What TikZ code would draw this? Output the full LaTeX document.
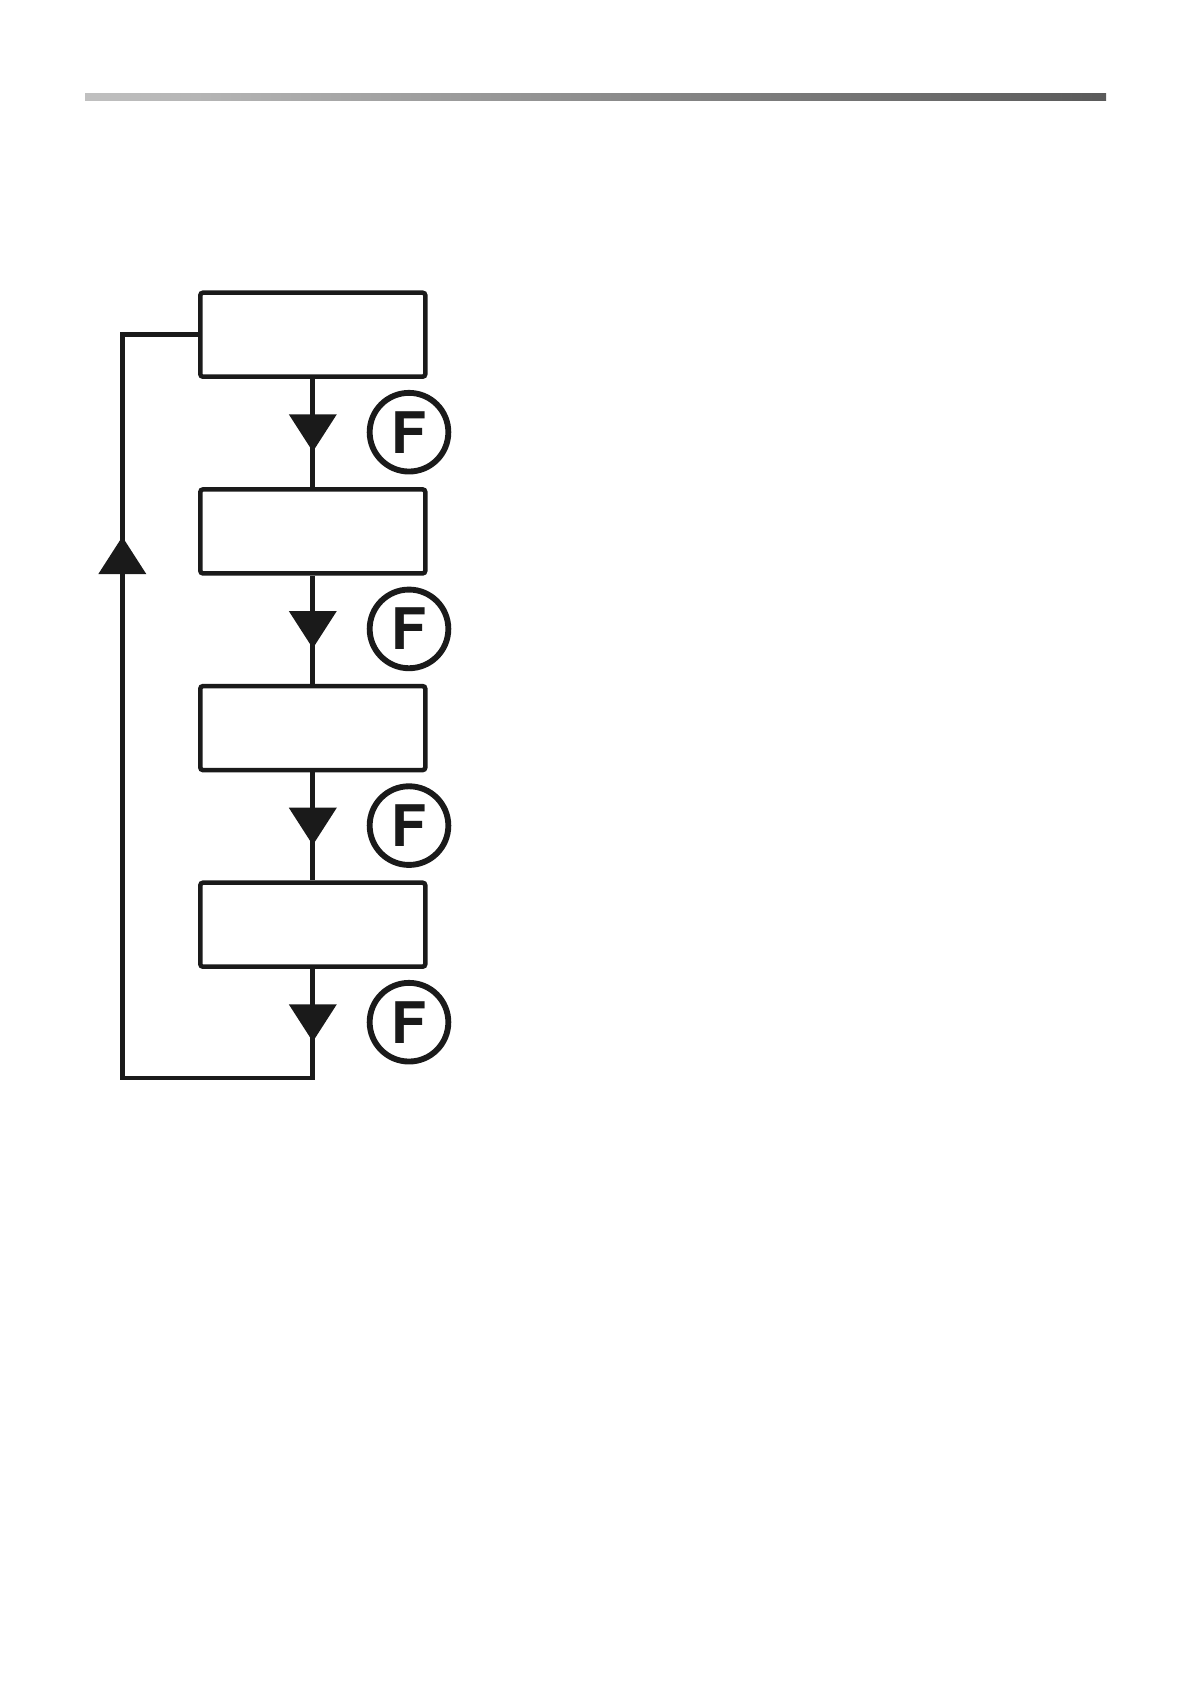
\documentclass[tikz,border=0pt]{standalone}
\usepackage{fontspec}
\setmainfont{TeX Gyre Heros}
\usetikzlibrary{decorations.markings}
\definecolor{ink}{HTML}{1A1A1A}
\definecolor{barlt}{HTML}{C0C0C0}
\definecolor{bardk}{HTML}{5A5A5A}
\newcommand{\flowtip}{\fill[ink] (0pt,0pt) -- (-28pt,18pt) -- (-28pt,-18pt) -- cycle;}
\tikzset{
  box/.style={draw=ink,line width=3.4pt,rounded corners=2pt,minimum width=168.75pt,
              minimum height=63pt,inner sep=0pt},
  ring/.style={circle,draw=ink,line width=4.4pt,minimum size=59pt,inner sep=0pt,
               text=ink,font=\bfseries\fontsize{43}{43}\selectfont},
  wire/.style={draw=ink,line width=3.7pt},
  tip/.style={postaction={decorate},
              decoration={markings,mark=at position 54.5pt with {\flowtip}}},
  looptips/.style={postaction={decorate},
              decoration={markings,mark=at position 54.5pt with {\flowtip},
                          mark=at position 630.6pt with {\flowtip}}},
}

\begin{document}
\begin{tikzpicture}[x=0.75pt,y=-0.75pt]
\useasboundingbox (0,0) rectangle (1191,1684);

% header rule
\shade[left color=barlt,right color=bardk] (85,93.5) rectangle (1106,100.2);

% boxes and F marks
\foreach \i/\y in {1/334.7,2/531.4,3/728.1,4/924.7} {
  \node[box] (b\i) at (312.8,\y) {};
  \node[ring] (f\i) at (409,\y+97.5) {F};
}

% downward flow
\foreach \i/\j in {1/2,2/3,3/4}
  \draw[wire,tip] (b\i) -- (b\j);

% return loop
\coordinate (lowturn) at (312.8,1078);
\coordinate (leftturn) at (122.3,1078);
\coordinate (lefttop) at (122.3,334.7);
\draw[wire,looptips] (b4) -- (lowturn) -- (leftturn) -- (lefttop) -- (b1);
\end{tikzpicture}
\end{document}
